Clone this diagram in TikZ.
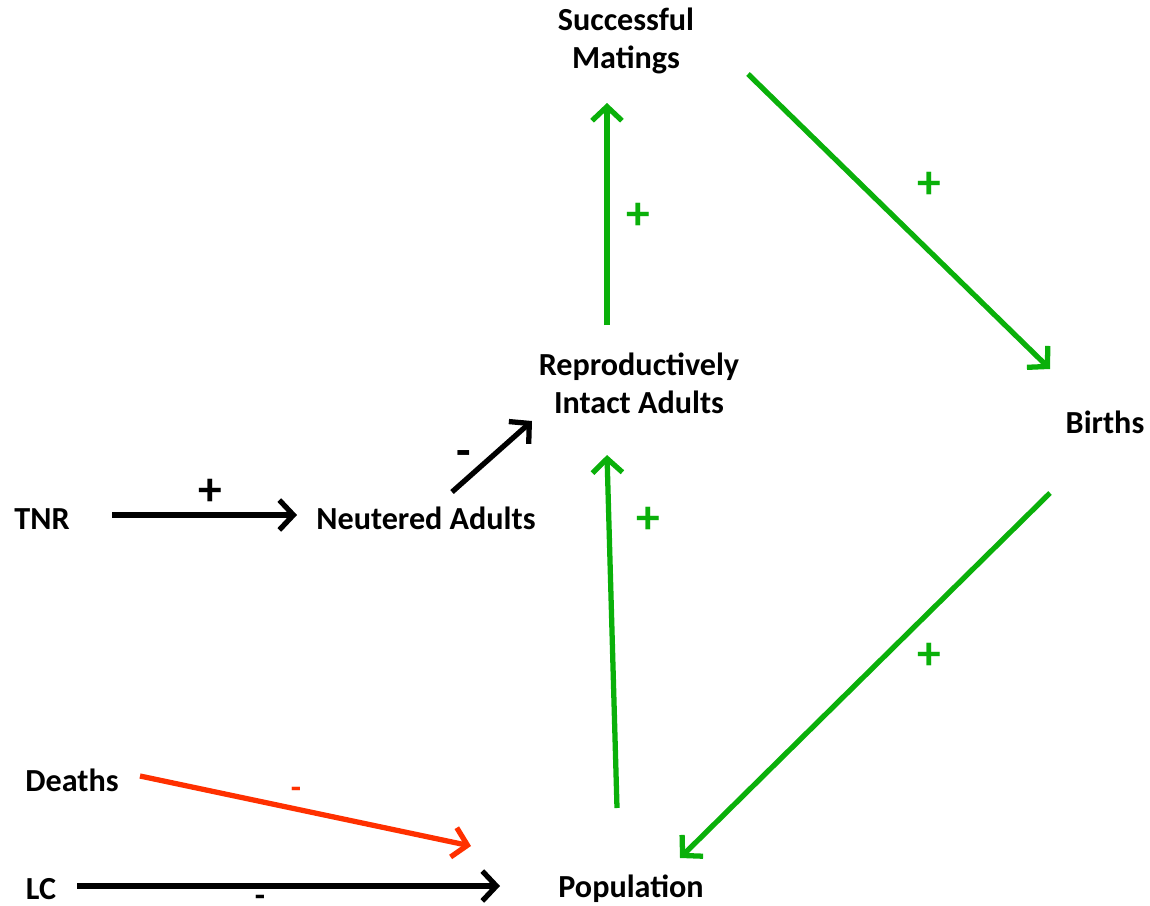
\documentclass[tikz,border=0pt]{standalone}
\usepackage{fontspec}
\setmainfont{Carlito}
\usetikzlibrary{arrows.meta}
\definecolor{cgreen}{RGB}{10,176,10}
\definecolor{cred}{RGB}{255,48,0}
\tikzset{
  lbl/.style={font=\fontsize{18.3}{21.5}\selectfont\bfseries, align=center, inner sep=0pt},
  sgn/.style={font=\fontsize{27}{27}\selectfont\bfseries, inner sep=0pt},
  smallsgn/.style={font=\fontsize{19}{19}\selectfont\bfseries, inner sep=0pt},
  conn/.style={line width=3pt, -{Straight Barb[length=8pt,width=17pt,line width=3pt]}},
  greenconn/.style={conn, cgreen},
}
\begin{document}
\begin{tikzpicture}[x=0.02cm, y=-0.02cm]
\useasboundingbox (0,0) rectangle (1150,906);
% nodes
\node[lbl] (mat) at (626,41) {Successful\\Matings};
\node[lbl] (rep) at (639,383) {Reproductively\\Intact Adults};
\node[lbl] (bir) at (1105,422) {Births};
\node[lbl] (tnr) at (42,519) {TNR};
\node[lbl] (neu) at (426,518) {Neutered Adults};
\node[lbl] (dea) at (72,780) {Deaths};
\node[lbl] (lc) at (41,889) {LC};
\node[lbl] (pop) at (631,889) {Population};
% connector ends
\coordinate (tnrS) at (112,515); \coordinate (neuE) at (297,515);
\coordinate (neuS) at (452,492); \coordinate (repE) at (532,421);
\coordinate (repS) at (607,325); \coordinate (matE) at (607,103);
\coordinate (matS) at (748,74);  \coordinate (birE) at (1050,369);
\coordinate (birS) at (1050,493); \coordinate (popE) at (680,858);
\coordinate (popS) at (617,808); \coordinate (repE2) at (607,455);
\coordinate (deaS) at (140,776); \coordinate (popE2) at (471,846);
\coordinate (lcS) at (77,886);   \coordinate (popE3) at (500,886);
% connectors
\draw[conn] (tnrS) -- (neuE);
\draw[conn] (neuS) -- (repE);
\draw[greenconn] (repS) -- (matE);
\draw[greenconn] (matS) -- (birE);
\draw[greenconn] (birS) -- (popE);
\draw[greenconn] (popS) -- (repE2);
\draw[conn, cred] (deaS) -- (popE2);
\draw[conn] (lcS) -- (popE3);
% signs
\node[sgn] at (210,492) {+};
\node[sgn] at (464,459) {-};
\node[sgn, cgreen] at (638,216) {+};
\node[sgn, cgreen] at (929,185) {+};
\node[sgn, cgreen] at (929,656) {+};
\node[sgn, cgreen] at (648,520) {+};
\node[smallsgn, cred] at (296,793) {-};
\node[smallsgn, anchor=base] at (260,906) {-};
\end{tikzpicture}
\end{document}
